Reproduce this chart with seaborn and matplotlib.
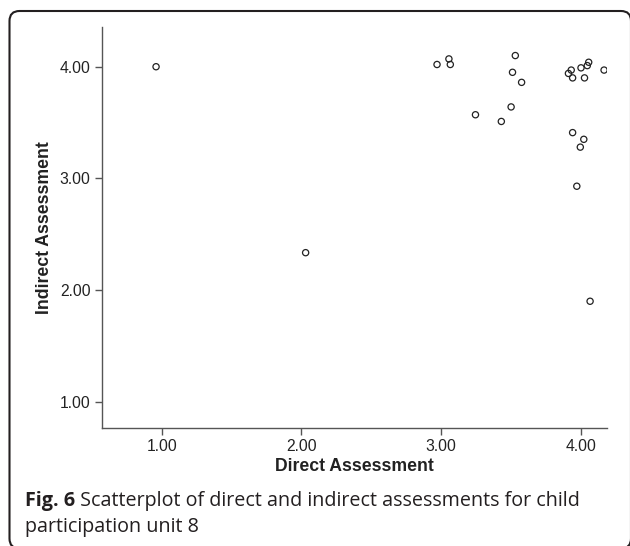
import numpy as np
import pandas as pd
import seaborn as sns
import matplotlib.pyplot as plt
from matplotlib.patches import FancyBboxPatch

direct = [0.96, 2.03, 2.97, 3.055, 3.065, 3.53, 3.51, 3.575, 3.245, 3.50, 3.43,
          3.91, 3.93, 3.94, 4.00, 4.045, 4.055, 4.025, 4.165,
          3.94, 4.02, 3.995, 3.97, 4.065]
indirect = [4.00, 2.335, 4.02, 4.07, 4.02, 4.10, 3.95, 3.86, 3.57, 3.64, 3.51,
            3.94, 3.97, 3.90, 3.99, 4.01, 4.04, 3.90, 3.97,
            3.41, 3.35, 3.28, 2.93, 1.90]
ticks = [1.0, 2.0, 3.0, 4.0]

df = pd.DataFrame({"Direct Assessment": direct, "Indirect Assessment": indirect})

sns.set_style("ticks")
plt.rcParams['font.family'] = ['Liberation Sans', 'DejaVu Sans']

fig = plt.figure(figsize=(6.3, 5.46), dpi=100)
ax = fig.add_axes([0.1614, 0.2161, 0.9635 - 0.1614, 0.95 - 0.2161])

sns.scatterplot(data=df, x="Direct Assessment", y="Indirect Assessment", ax=ax,
                marker="o", s=20, facecolor="none", edgecolor="#222222", linewidth=0.9)

ax.set_xlim(0.571, 4.186)
ax.set_ylim(0.765, 4.353)
ax.set_xticks(ticks)
ax.set_yticks(ticks)
ax.set_xticklabels([f"{t:.2f}" for t in ticks])
ax.set_yticklabels([f"{t:.2f}" for t in ticks])
ax.tick_params(length=5, width=1, color="#555555", labelsize=11.3, labelcolor="#222222", pad=3)
sns.despine(ax=ax)
for sp in ("left", "bottom"):
    ax.spines[sp].set_color("#555555")
    ax.spines[sp].set_linewidth(1)

ax.set_xlabel("Direct Assessment", fontsize=12.7, fontweight="bold", color="#222222", labelpad=3)
ax.set_ylabel("Indirect Assessment", fontsize=12.7, fontweight="bold", color="#222222", labelpad=5)

# figure caption with bold label
cap_font = ['Open Sans', 'DejaVu Sans']
cap_size = 14.2
t1 = fig.text(25 / 630, 1 - 506 / 546, "Fig. 6", fontsize=cap_size, fontweight="bold",
              family=cap_font, color="#231f20", va="baseline")
fig.canvas.draw()
bb = t1.get_window_extent(fig.canvas.get_renderer())
fig.text(bb.x1 / fig.bbox.width, 1 - 506 / 546,
         " Scatterplot of direct and indirect assessments for child",
         fontsize=cap_size, family=cap_font, color="#231f20", va="baseline")
fig.text(25 / 630, 1 - 532 / 546, "participation unit 8", fontsize=cap_size,
         family=cap_font, color="#231f20", va="baseline")

# rounded frame around the figure (right and bottom edges run off the image)
frame = FancyBboxPatch((0.095, -0.025), 6.215, 5.375,
                       boxstyle="round,pad=0,rounding_size=0.1",
                       transform=fig.dpi_scale_trans, fill=False,
                       edgecolor="#231f20", linewidth=1.5)
fig.patches.append(frame)

fig.savefig("out.png", dpi=100)
